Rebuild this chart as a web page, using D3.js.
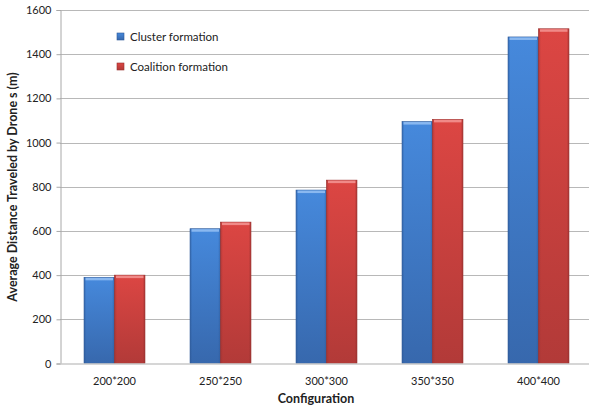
<!DOCTYPE html>
<html>
<head>
<meta charset="utf-8">
<script src="https://cdn.jsdelivr.net/npm/d3@7"></script>
<style>
  body { margin: 0; background: #fff; }
  text { font-family: Lato, "Open Sans", sans-serif; fill: #222; }
</style>
</head>
<body>
<svg id="chart"></svg>
<script>
// Chart data
const categories = ["200*200", "250*250", "300*300", "350*350", "400*400"];
const clusterValues = [390, 610, 785, 1095, 1478];
const coalitionValues = [400, 640, 830, 1105, 1515];
const seriesNames = ["Cluster formation", "Coalition formation"];
const yTicks = [0, 200, 400, 600, 800, 1000, 1200, 1400, 1600];

const svgWidth = 589;
const svgHeight = 408;
const svg = d3.select("#chart").attr("width", svgWidth).attr("height", svgHeight);

// Plot area
const plotLeft = 60;
const plotRight = 589;
const plotTop = 10;
const plotBottom = 363.5;

const x = d3.scaleBand()
  .domain(categories)
  .range([61.5, 591.5])
  .paddingInner(0.425)
  .paddingOuter(0.2125);

const xSeries = d3.scaleBand()
  .domain(seriesNames)
  .range([0, x.bandwidth()]);

const y = d3.scaleLinear().domain([0, 1600]).range([plotBottom, plotTop]);

// Gradients for the bevelled bars
const defs = svg.append("defs");
const palettes = [
  { id: "blue", light: "#4689dc", mid: "#3768ad", dark: "#2c5896", top: "#8ab8f0" },
  { id: "red", light: "#dc4643", mid: "#b23a38", dark: "#96302e", top: "#f08a88" }
];
palettes.forEach(p => {
  const g = defs.append("linearGradient").attr("id", "grad-" + p.id)
    .attr("x1", 0).attr("y1", 0).attr("x2", 0).attr("y2", 1);
  g.append("stop").attr("offset", "0%").attr("stop-color", p.light);
  g.append("stop").attr("offset", "100%").attr("stop-color", p.mid);
  const h = defs.append("linearGradient").attr("id", "side-" + p.id)
    .attr("x1", 0).attr("y1", 0).attr("x2", 1).attr("y2", 0);
  h.append("stop").attr("offset", "0%").attr("stop-color", p.dark).attr("stop-opacity", 0.55);
  h.append("stop").attr("offset", "8%").attr("stop-color", p.dark).attr("stop-opacity", 0);
  h.append("stop").attr("offset", "92%").attr("stop-color", p.dark).attr("stop-opacity", 0);
  h.append("stop").attr("offset", "100%").attr("stop-color", p.dark).attr("stop-opacity", 0.6);
});

// Gridlines
svg.append("g")
  .selectAll("line")
  .data(yTicks.filter(d => d > 0))
  .join("line")
  .attr("x1", plotLeft)
  .attr("x2", plotRight)
  .attr("y1", d => Math.round(y(d)) + 0.5)
  .attr("y2", d => Math.round(y(d)) + 0.5)
  .attr("stroke", "#b8b8b8")
  .attr("stroke-width", 1);

// Y axis
const yAxis = svg.append("g")
  .attr("transform", `translate(${plotLeft + 0.5},0)`)
  .call(d3.axisLeft(y).tickValues(yTicks).tickFormat(d3.format("d")).tickSize(4).tickPadding(5));
yAxis.select(".domain").attr("stroke", "#a8a8a8");
yAxis.selectAll(".tick line").attr("stroke", "#a8a8a8");
yAxis.selectAll(".tick text").style("font-size", "11px").attr("fill", "#222");

// Bars
const groups = svg.append("g")
  .selectAll("g")
  .data(categories)
  .join("g")
  .attr("transform", d => `translate(${x(d)},0)`);

const barData = (d, i) => [
  { series: seriesNames[0], value: clusterValues[i], pal: palettes[0] },
  { series: seriesNames[1], value: coalitionValues[i], pal: palettes[1] }
];

const bars = groups.selectAll("g.bar")
  .data(barData)
  .join("g")
  .attr("class", "bar");

bars.append("rect")
  .attr("x", d => xSeries(d.series))
  .attr("y", d => y(d.value))
  .attr("width", xSeries.bandwidth())
  .attr("height", d => y(0) - y(d.value))
  .attr("fill", d => `url(#grad-${d.pal.id})`)
  .attr("stroke", d => d.pal.dark)
  .attr("stroke-width", 0.6);

bars.append("rect")
  .attr("x", d => xSeries(d.series))
  .attr("y", d => y(d.value))
  .attr("width", xSeries.bandwidth())
  .attr("height", d => y(0) - y(d.value))
  .attr("fill", d => `url(#side-${d.pal.id})`);

// Top bevel highlight
bars.append("rect")
  .attr("x", d => xSeries(d.series) + 1.5)
  .attr("y", d => y(d.value) + 0.5)
  .attr("width", xSeries.bandwidth() - 3)
  .attr("height", 2.5)
  .attr("fill", d => d.pal.top);

// X axis baseline
svg.append("line")
  .attr("x1", plotLeft)
  .attr("x2", plotRight)
  .attr("y1", plotBottom + 0.5)
  .attr("y2", plotBottom + 0.5)
  .attr("stroke", "#c8c8c8")
  .attr("stroke-width", 1.5);

// X tick labels
svg.append("g")
  .selectAll("text")
  .data(categories)
  .join("text")
  .attr("x", d => x(d) + x.bandwidth() / 2)
  .attr("y", 385)
  .attr("text-anchor", "middle")
  .style("font-size", "11px")
  .text(d => d);

// Axis titles
svg.append("text")
  .attr("x", 316)
  .attr("y", 403)
  .attr("text-anchor", "middle")
  .style("font-size", "12.5px")
  .style("font-weight", "bold")
  .text("Configuration");

svg.append("text")
  .attr("transform", `translate(17,187) rotate(-90)`)
  .attr("text-anchor", "middle")
  .style("font-size", "12.5px")
  .style("font-weight", "bold")
  .text("Average Distance Traveled by Drone s (m)");

// Legend
const legend = svg.append("g")
  .selectAll("g")
  .data(seriesNames)
  .join("g")
  .attr("transform", (d, i) => `translate(117,${33 + i * 30})`);

legend.append("rect")
  .attr("width", 7)
  .attr("height", 7)
  .attr("fill", (d, i) => `url(#grad-${palettes[i].id})`)
  .attr("stroke", (d, i) => palettes[i].dark)
  .attr("stroke-width", 0.6);

legend.append("text")
  .attr("x", 13)
  .attr("y", 7.5)
  .style("font-size", "11.5px")
  .text(d => d);
</script>
</body>
</html>
